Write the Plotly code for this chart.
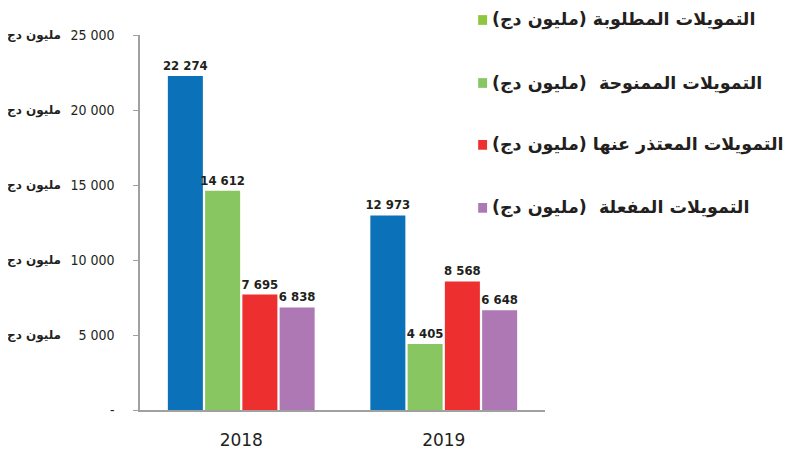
import plotly.graph_objects as go

years = ["2018", "2019"]
requested = [22274, 12973]
granted = [14612, 4405]
failed = [7695, 8568]
activated = [6838, 6648]

series_names = [
    "التمويلات المطلوبة (مليون دج)",
    "التمويلات الممنوحة  (مليون دج)",
    "التمويلات المعتذر عنها (مليون دج)",
    "التمويلات المفعلة  (مليون دج)",
]
bar_colors = ["#0B72B9", "#88C662", "#EE2F2F", "#AE78B4"]
legend_colors = ["#8DC63F", "#88C662", "#EE2F2F", "#AE78B4"]

tick_vals = [0, 5000, 10000, 15000, 20000, 25000]
tick_text = ["-", "5 000", "10 000", "15 000", "20 000", "25 000"]
unit_label = "مليون دج"

fig = go.Figure()
for name, vals, col in zip(series_names, [requested, granted, failed, activated], bar_colors):
    fig.add_trace(go.Bar(
        x=years, y=vals, name=name,
        marker=dict(color=col, line=dict(width=0)),
        texttemplate="%{y:,}", textposition="outside", constraintext="none",
        textfont=dict(family="DejaVu Sans Condensed", size=13, color="#231F20", weight="bold"),
        cliponaxis=False, showlegend=False,
    ))

# page body adds an 8px offset, so the figure is drawn 8px smaller
fig.update_layout(
    width=786, height=447,
    margin=dict(l=132, r=249, t=27, b=45, autoexpand=False),
    paper_bgcolor="white", plot_bgcolor="white",
    barmode="group", bargap=0.264, bargroupgap=0.06,
    separators=". ",
    xaxis=dict(
        showline=True, linecolor="#A0A0A0", linewidth=2,
        ticks="", showgrid=False, automargin=False,
        tickfont=dict(family="DejaVu Sans", size=17, color="#231F20"),
        ticklabelstandoff=14,
    ),
    yaxis=dict(
        range=[0, 25000], showline=True, linecolor="#A0A0A0", linewidth=1.5,
        ticks="outside", ticklen=5, tickcolor="#A0A0A0", automargin=False,
        tickvals=tick_vals, ticktext=tick_text, showgrid=False, zeroline=False,
        tickfont=dict(family="DejaVu Sans Condensed", size=14, color="#231F20"),
        ticklabelstandoff=16,
    ),
    showlegend=False,
)

for v in tick_vals[1:]:
    fig.add_annotation(
        xref="paper", yref="y", x=-0.19, y=v, xanchor="right", yanchor="middle",
        text="<b>" + unit_label + "</b>", showarrow=False,
        font=dict(family="DejaVu Sans", size=12, color="#231F20"),
    )

legend_y = [1.04, 0.872, 0.707, 0.539]
for name, col, ly in zip(series_names, legend_colors, legend_y):
    fig.add_shape(type="rect", xref="paper", yref="paper",
                  x0=0.835, x1=0.857, y0=ly - 0.013, y1=ly + 0.013,
                  fillcolor=col, line=dict(width=0))
    fig.add_annotation(
        xref="paper", yref="paper", x=0.865, y=ly, xanchor="left", yanchor="middle",
        text="<b>" + name + "</b>", showarrow=False,
        font=dict(family="DejaVu Sans", size=17.5, color="#231F20"),
    )

fig.write_html("out.html")
